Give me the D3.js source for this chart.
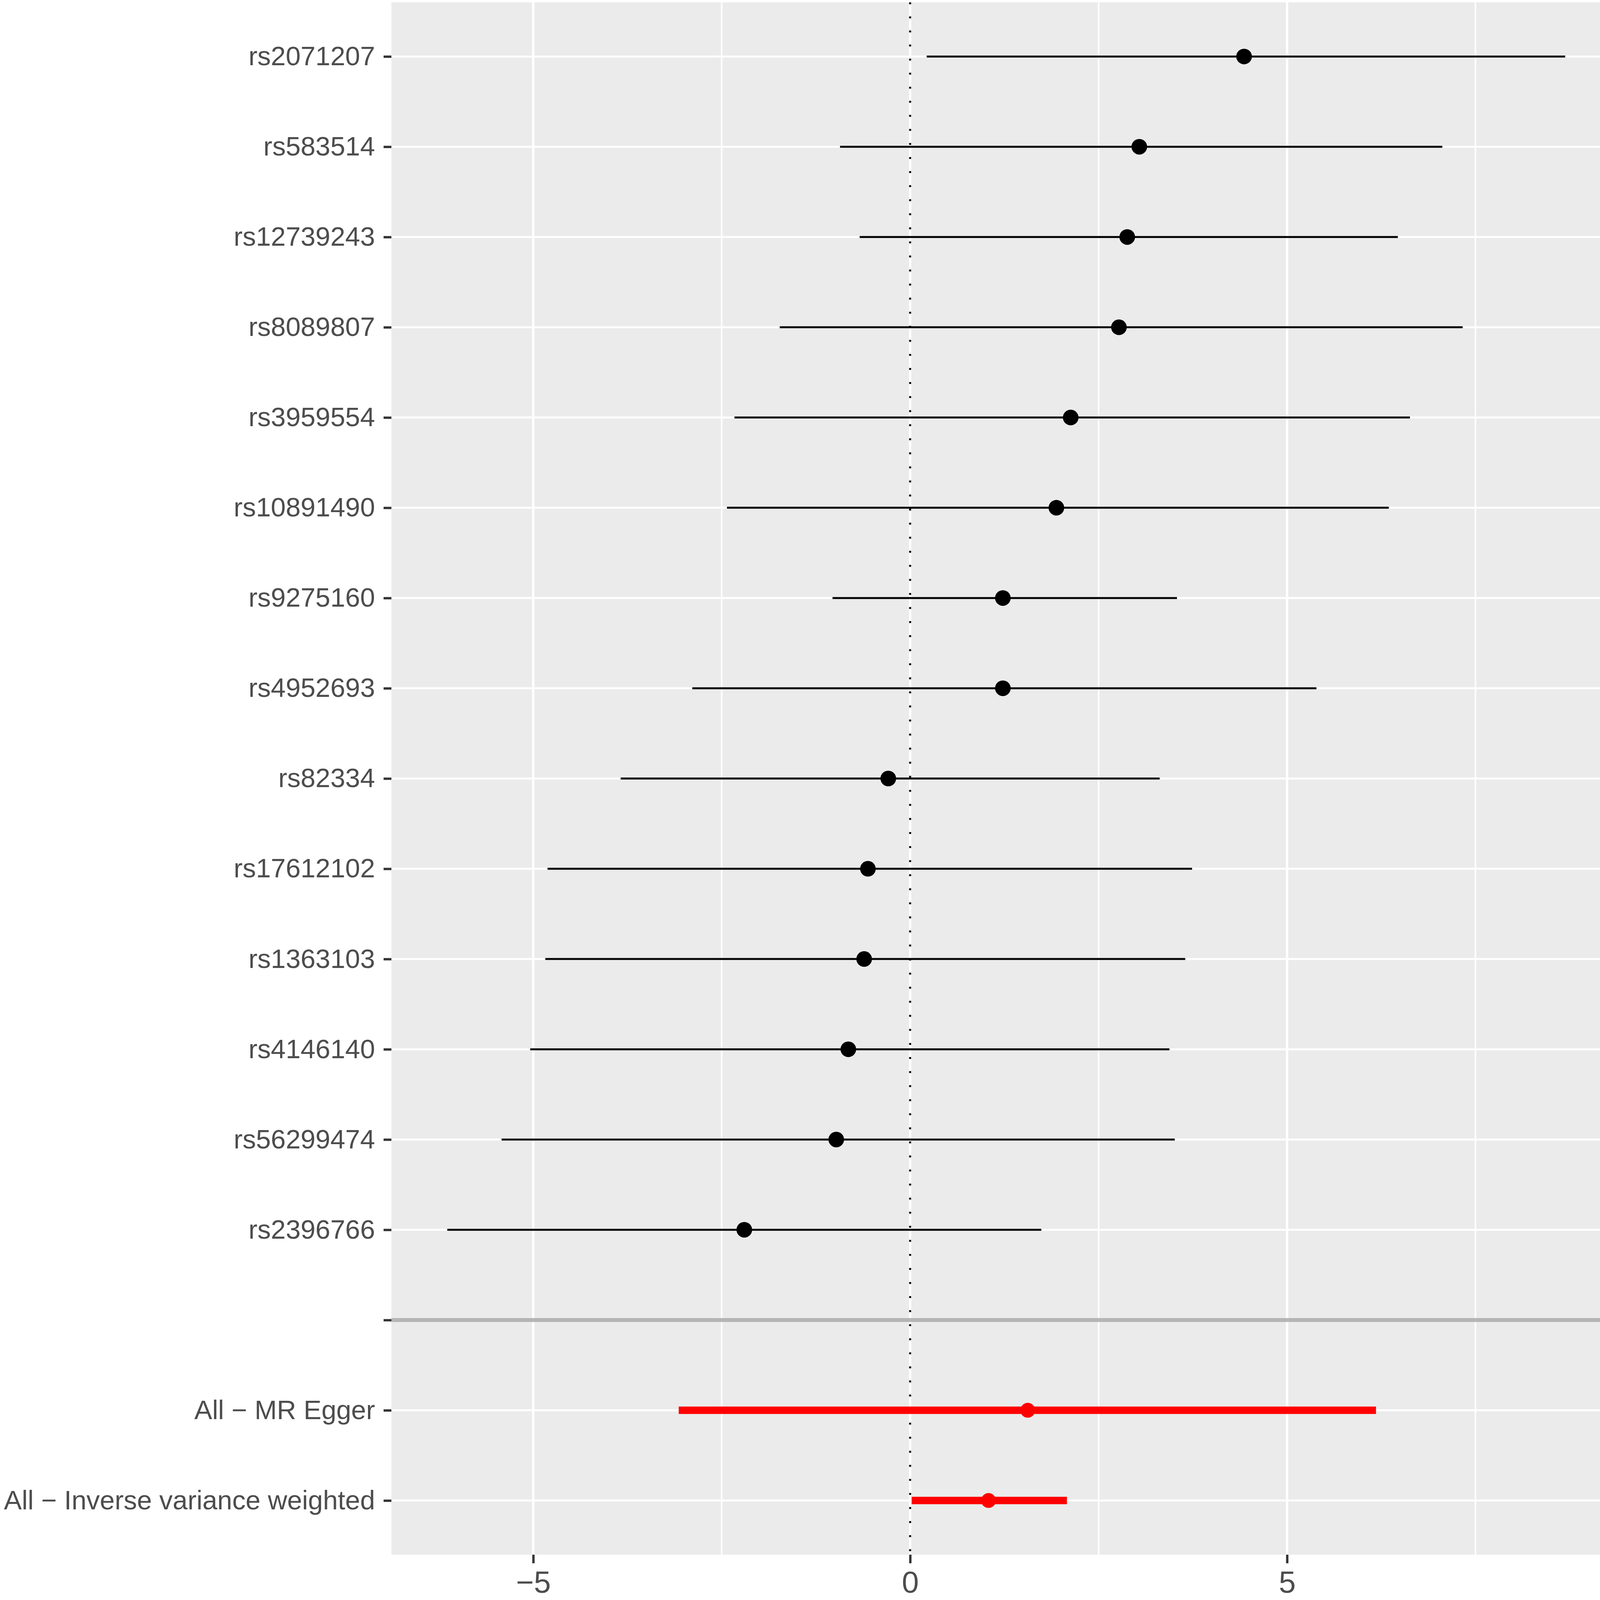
<!DOCTYPE html>
<html>
<head>
<meta charset="utf-8">
<script src="https://cdn.jsdelivr.net/npm/d3@7"></script>
<style>
  body { margin: 0; background: #fff; overflow: hidden; }
  svg { display: block; }
  text { font-family: "Liberation Sans", Arial, sans-serif; }
</style>
</head>
<body>
<div id="chart"></div>
<script>
// SNP rows, top to bottom
var snps = ["rs2071207", "rs583514", "rs12739243", "rs8089807", "rs3959554", "rs10891490",
            "rs9275160", "rs4952693", "rs82334", "rs17612102", "rs1363103", "rs4146140",
            "rs56299474", "rs2396766"];
var snpBeta = [4.43, 3.04, 2.88, 2.77, 2.13, 1.94, 1.23, 1.23, -0.29, -0.56, -0.61, -0.82, -0.98, -2.20];
var snpLo   = [0.22, -0.93, -0.67, -1.73, -2.33, -2.43, -1.03, -2.89, -3.84, -4.81, -4.84, -5.04, -5.42, -6.14];
var snpHi   = [8.69, 7.06, 6.47, 7.33, 6.63, 6.35, 3.54, 5.39, 3.31, 3.74, 3.65, 3.44, 3.51, 1.74];

// summary methods
var methods = ["All \u2212 MR Egger", "All \u2212 Inverse variance weighted"];
var methodBeta = [1.56, 1.04];
var methodLo   = [-3.07, 0.02];
var methodHi   = [6.18, 2.08];

var xTicks = [-5, 0, 5];
var xMinorTicks = [-7.5, -2.5, 2.5, 7.5];
var titleLines = ["MR effect size for",
  "'Frailty index || id:ebi\u2212a\u2212GCST90020053' on 'Delirium, not induced by alcohol and other psychoactive substances || id:finn\u2212b\u2212F5_DELIRIUM'"];

var svgWidth = 4213;
var svgHeight = 4270;
var panel = { left: 1002, right: 4150, top: 6, bottom: 3980 };

var svg = d3.select("#chart")
    .append("svg")
    .attr("width", svgWidth)
    .attr("height", svgHeight);

svg.append("rect")
    .attr("width", svgWidth)
    .attr("height", svgHeight)
    .attr("fill", "#ffffff");

// rows: SNPs, a blank separator row, then the methods
var rows = snps.map(function(s, i) {
    return { label: s, b: snpBeta[i], lo: snpLo[i], hi: snpHi[i], summary: false };
});
methods.forEach(function(m, i) {
    rows.push({ label: m, b: methodBeta[i], lo: methodLo[i], hi: methodHi[i], summary: true });
});
var levels = snps.concat([""], methods);

// x scale with ggplot-style 5% expansion
var xMin = d3.min(rows, d => d.lo);
var xMax = d3.max(rows, d => d.hi);
var span = xMax - xMin;
var x = d3.scaleLinear()
    .domain([xMin - 0.05 * span, xMax + 0.05 * span])
    .range([panel.left, panel.right]);

var y = d3.scalePoint()
    .domain(levels)
    .range([panel.top, panel.bottom])
    .padding(0.6);

// panel background
svg.append("rect")
    .attr("x", panel.left)
    .attr("y", panel.top)
    .attr("width", panel.right - panel.left)
    .attr("height", panel.bottom - panel.top)
    .attr("fill", "#EBEBEB");

var grid = svg.append("g");

// minor vertical grid
grid.selectAll(".minor")
    .data(xMinorTicks.filter(v => v > x.domain()[0] && v < x.domain()[1]))
    .enter()
    .append("line")
    .attr("x1", d => x(d)).attr("x2", d => x(d))
    .attr("y1", panel.top).attr("y2", panel.bottom)
    .attr("stroke", "#fff")
    .attr("stroke-width", 4);

// major vertical grid
grid.selectAll(".majorx")
    .data(xTicks)
    .enter()
    .append("line")
    .attr("x1", d => x(d)).attr("x2", d => x(d))
    .attr("y1", panel.top).attr("y2", panel.bottom)
    .attr("stroke", "#fff")
    .attr("stroke-width", 6);

// horizontal grid
grid.selectAll(".majory")
    .data(levels)
    .enter()
    .append("line")
    .attr("x1", panel.left).attr("x2", panel.right)
    .attr("y1", d => y(d)).attr("y2", d => y(d))
    .attr("stroke", "#fff")
    .attr("stroke-width", 5);

// dotted line at zero
svg.append("line")
    .attr("x1", x(0)).attr("x2", x(0))
    .attr("y1", panel.top).attr("y2", panel.bottom)
    .attr("stroke", "#000")
    .attr("stroke-width", 5)
    .attr("stroke-dasharray", "5,31");

// separator between SNPs and methods
svg.append("line")
    .attr("x1", panel.left).attr("x2", panel.right)
    .attr("y1", y("")).attr("y2", y(""))
    .attr("stroke", "#B5B5B5")
    .attr("stroke-width", 10);

// error bars
svg.selectAll(".bar")
    .data(rows)
    .enter()
    .append("line")
    .attr("x1", d => x(d.lo))
    .attr("x2", d => x(d.hi))
    .attr("y1", d => y(d.label))
    .attr("y2", d => y(d.label))
    .attr("stroke", d => d.summary ? "#FF0000" : "#000")
    .attr("stroke-width", d => d.summary ? 19 : 5);

// points
svg.selectAll(".pt")
    .data(rows)
    .enter()
    .append("circle")
    .attr("cx", d => x(d.b))
    .attr("cy", d => y(d.label))
    .attr("r", d => d.summary ? 19 : 20)
    .attr("fill", d => d.summary ? "#FF0000" : "#000");

// y axis
var leftAxis = d3.axisLeft(y).tickSize(20).tickPadding(22);
var gy = svg.append("g")
    .attr("transform", `translate(${panel.left}, 0)`)
    .call(leftAxis);
gy.select(".domain").remove();
gy.selectAll(".tick line").attr("stroke", "#333333").attr("stroke-width", 6);
gy.selectAll(".tick text")
    .attr("fill", "#4D4D4D")
    .style("font-size", "68.5px")
    .style("font-family", "'Liberation Sans', Arial, sans-serif");

// x axis
var bottomAxis = d3.axisBottom(x)
    .tickValues(xTicks)
    .tickSize(22)
    .tickPadding(20)
    .tickFormat(d => d < 0 ? "\u2212" + Math.abs(d) : String(d));
var gx = svg.append("g")
    .attr("transform", `translate(0, ${panel.bottom})`)
    .call(bottomAxis);
gx.select(".domain").remove();
gx.selectAll(".tick line").attr("stroke", "#333333").attr("stroke-width", 6);
gx.selectAll(".tick text")
    .attr("fill", "#4D4D4D")
    .style("font-size", "78px")
    .style("font-family", "'Liberation Sans', Arial, sans-serif");

// axis title, two lines centred on the panel (second line runs off the right edge, as in the original)
var cx = (panel.left + panel.right) / 2;
svg.selectAll(".title")
    .data(titleLines)
    .enter()
    .append("text")
    .attr("x", cx)
    .attr("y", (d, i) => 4167 + i * 70)
    .attr("text-anchor", "middle")
    .attr("fill", "#000")
    .style("font-size", "68.5px")
    .text(d => d);
</script>
</body>
</html>
